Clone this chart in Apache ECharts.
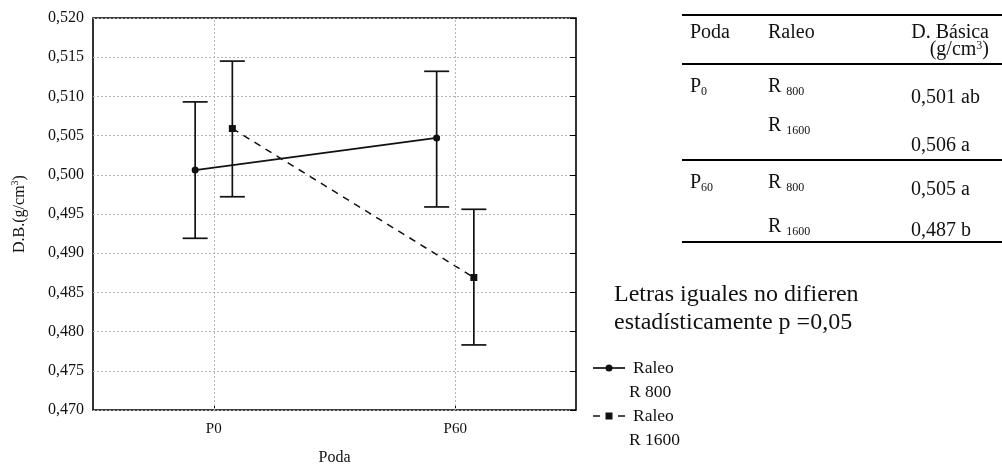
<!DOCTYPE html>
<html><head><meta charset="utf-8">
<script src="https://cdn.jsdelivr.net/npm/echarts@6/dist/echarts.min.js"></script>
<style>html,body{margin:0;padding:0;background:#fff}#c{width:1002px;height:465px}</style>
</head><body><div id="c"></div>
<script>
const categories = ['P0', 'P60'];
const yTicks = [0.470, 0.475, 0.480, 0.485, 0.490, 0.495, 0.500, 0.505, 0.510, 0.515, 0.520];
const r800Mean = [0.5006, 0.5047];
const r800Low  = [0.4919, 0.4959];
const r800High = [0.5093, 0.5132];
const r1600Mean = [0.5059, 0.4869];
const r1600Low  = [0.4972, 0.4783];
const r1600High = [0.5145, 0.4956];
const legendNames = ['Raleo\nR 800', 'Raleo\nR 1600'];
const tableHeader = ['Poda', 'Raleo', 'D. Básica', '(g/cm3)'];
const tablePoda = ['P|0', '', 'P|60', ''];
const tableRaleo = ['R|800', 'R|1600', 'R|800', 'R|1600'];
const tableValue = ['0,501 ab', '0,506 a', '0,505 a', '0,487 b'];
const note = ['Letras iguales no difieren', 'estadísticamente p =0,05'];

const FONT = 'Liberation Serif';
const INK = '#111';
const OFF = 0.077;
const chart = echarts.init(document.getElementById('c'));

function errSeries(name, mean, low, high, off) {
  return {
    name: name + '_err', type: 'custom', xAxisIndex: 1, yAxisIndex: 0, silent: true, z: 2,
    data: mean.map((m, i) => [i + off, low[i], high[i]]),
    renderItem: function (params, api) {
      const x = api.value(0);
      const lo = api.coord([x, api.value(1)]);
      const hi = api.coord([x, api.value(2)]);
      const w = 12.5;
      const st = { stroke: INK, lineWidth: 1.7 };
      return { type: 'group', children: [
        { type: 'line', shape: { x1: lo[0], y1: lo[1], x2: hi[0], y2: hi[1] }, style: st },
        { type: 'line', shape: { x1: lo[0] - w, y1: lo[1], x2: lo[0] + w, y2: lo[1] }, style: st },
        { type: 'line', shape: { x1: hi[0] - w, y1: hi[1], x2: hi[0] + w, y2: hi[1] }, style: st }
      ]};
    }
  };
}

const graphics = [];
[15, 64, 160, 242].forEach(y => {
  graphics.push({ type: 'line', shape: { x1: 682, y1: y, x2: 1002, y2: y }, style: { stroke: '#000', lineWidth: 2.2 } });
});
const TF = 20;
const txt = (t, x, y, size, align, rich) => ({ type: 'text', x: x, y: y,
  style: { text: t, font: size + 'px ' + FONT, fill: INK, textAlign: align || 'left', textVerticalAlign: 'middle', rich: rich } });
const subRich = { s: { fontSize: 12, fontFamily: FONT, fill: INK, padding: [9, 0, 0, 0] } };
const supRich = { s: { fontSize: 12, fontFamily: FONT, fill: INK, padding: [0, 0, 9, 0] } };
graphics.push(txt(tableHeader[0], 690, 33, TF));
graphics.push(txt(tableHeader[1], 768, 33, TF));
graphics.push(txt(tableHeader[2], 989, 33, TF, 'right'));
graphics.push(txt(tableHeader[3].replace('3', '{s|3}'), 989, 50, TF, 'right', supRich));
const rowY = [[87, 98], [126, 146], [183, 190], [227, 231]];
tablePoda.forEach((p, i) => {
  if (p) { const [a, b] = p.split('|'); graphics.push(txt(a + '{s|' + b + '}', 690, rowY[i][0], TF, 'left', subRich)); }
  const [r, n] = tableRaleo[i].split('|');
  graphics.push(txt(r + ' {s|' + n + '}', 768, rowY[i][0], TF, 'left', subRich));
  graphics.push(txt(tableValue[i], 911, rowY[i][1], TF));
});
graphics.push(txt(note[0], 614, 295, 24));
graphics.push(txt(note[1], 614, 323, 24));

// legend (drawn manually so the marker aligns with the first text line)
const LF = 17.5;
const legY = [368, 416];
graphics.push({ type: 'line', shape: { x1: 593, y1: legY[0], x2: 625, y2: legY[0] }, style: { stroke: INK, lineWidth: 1.7 } });
graphics.push({ type: 'circle', shape: { cx: 609, cy: legY[0], r: 3.5 }, style: { fill: INK } });
graphics.push({ type: 'line', shape: { x1: 593, y1: legY[1], x2: 600, y2: legY[1] }, style: { stroke: INK, lineWidth: 1.5 } });
graphics.push({ type: 'line', shape: { x1: 618, y1: legY[1], x2: 625, y2: legY[1] }, style: { stroke: INK, lineWidth: 1.5 } });
graphics.push({ type: 'rect', shape: { x: 605.5, y: legY[1] - 3.5, width: 7, height: 7 }, style: { fill: INK } });
legendNames.forEach((n, i) => {
  const [l1, l2] = n.split('\n');
  graphics.push(txt(l1, 633, legY[i], LF));
  graphics.push(txt(l2, 629, legY[i] + 24, LF));
});

chart.setOption({
  animation: false,
  textStyle: { fontFamily: FONT },
  grid: { left: 93, right: 426, top: 18, bottom: 55, containLabel: false, outerBoundsMode: 'none',
    show: true, borderColor: '#000', borderWidth: 1.6, backgroundColor: 'transparent' },
  xAxis: [
    { type: 'category', data: categories, boundaryGap: true, position: 'bottom',
      axisLine: { show: false }, axisTick: { show: true, alignWithLabel: true, inside: true, length: 5, lineStyle: { color: '#000' } },
      axisLabel: { fontFamily: FONT, fontSize: 15, color: INK, margin: 12 },
      splitLine: { show: false },
      name: 'Poda', nameLocation: 'middle', nameGap: 40, nameTextStyle: { fontFamily: FONT, fontSize: 16, color: INK } },
    { type: 'value', min: -0.5, max: 1.5, show: false }
  ],
  yAxis: [
    { type: 'value', min: 0.470, max: 0.520, interval: 0.005,
      axisLine: { show: false }, axisTick: { show: false },
      axisLabel: { fontFamily: FONT, fontSize: 16, color: INK, margin: 9, formatter: v => v.toFixed(3).replace('.', ',') },
      splitLine: { show: true, lineStyle: { color: '#b5b5b5', type: [2, 2], width: 1 } },
      name: 'D.B.(g/cm{s|3})', nameLocation: 'middle', nameRotate: 90, nameGap: 63,
      nameTextStyle: { fontFamily: FONT, fontSize: 16, color: INK, rich: { s: { fontSize: 10, fontFamily: FONT, padding: [0, 0, 10, 0] } } } },
    { type: 'value', min: 0.470, max: 0.520, interval: 0.005, position: 'right',
      axisLine: { show: false }, axisLabel: { show: false }, splitLine: { show: false },
      axisTick: { show: true, inside: true, length: 6, lineStyle: { color: '#000' } } }
  ],
  graphic: graphics,
  series: [
    { name: 'R800', type: 'line', xAxisIndex: 1, yAxisIndex: 0, z: 3,
      data: r800Mean.map((v, i) => [i - OFF, v]),
      symbol: 'circle', symbolSize: 7, lineStyle: { color: INK, width: 1.7, type: 'solid' }, itemStyle: { color: INK },
      markLine: { silent: true, symbol: 'none', label: { show: false },
        lineStyle: { color: '#b5b5b5', type: [2, 2], width: 1 },
        data: categories.map((c, i) => ({ xAxis: i })) } },
    { name: 'R1600', type: 'line', xAxisIndex: 1, yAxisIndex: 0, z: 3,
      data: r1600Mean.map((v, i) => [i + OFF, v]),
      symbol: 'rect', symbolSize: 7, lineStyle: { color: INK, width: 1.5, type: [7, 6] }, itemStyle: { color: INK } },
    errSeries('R800', r800Mean, r800Low, r800High, -OFF),
    errSeries('R1600', r1600Mean, r1600Low, r1600High, OFF)
  ]
});
</script></body></html>
